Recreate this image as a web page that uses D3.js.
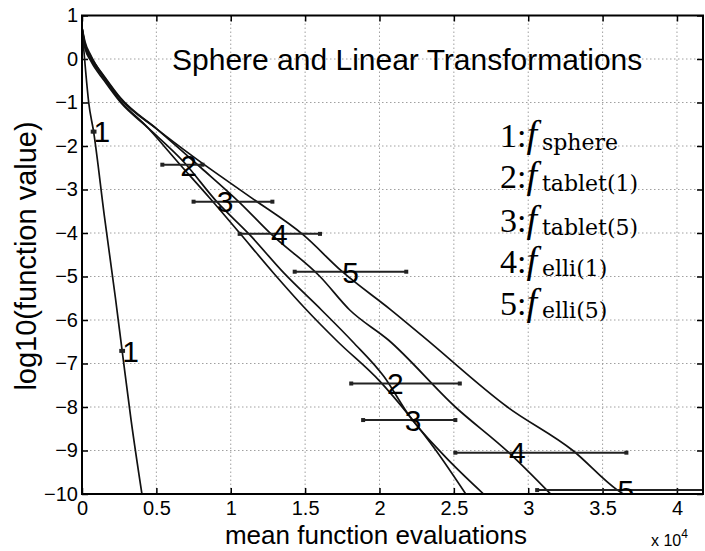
<!DOCTYPE html>
<html>
<head>
<meta charset="utf-8">
<script src="https://cdn.jsdelivr.net/npm/d3@7"></script>
<style>
  body { margin: 0; background: #fff; }
  svg { display: block; }
</style>
</head>
<body>
<div id="chart"></div>
<script>
// values: x in units of 1e4 evaluations, y = log10(f)
const xTicks = [0, 0.5, 1, 1.5, 2, 2.5, 3, 3.5, 4];
const xTickLabels = ['0', '0.5', '1', '1.5', '2', '2.5', '3', '3.5', '4'];
const yTicks = [1, 0, -1, -2, -3, -4, -5, -6, -7, -8, -9, -10];
const yTickLabels = ['1', '0', '\u22121', '\u22122', '\u22123', '\u22124', '\u22125', '\u22126', '\u22127', '\u22128', '\u22129', '\u221210'];

const seriesIds = ['1', '2', '3', '4', '5'];
const legendSubs = ['sphere', 'tablet(1)', 'tablet(5)', 'elli(1)', 'elli(5)'];

const evals1 = [0, 0.01, 0.025, 0.045, 0.078, 0.15, 0.225, 0.27, 0.33, 0.403];
const logf1 = [0.72, 0.3, -0.3, -1.0, -1.67, -3.6, -5.5, -6.71, -8.3, -10];

const evals2 = [0, 0.02, 0.06, 0.15, 0.26, 0.42, 0.66, 0.86, 1.06, 1.29, 1.51, 1.72, 2.0, 2.2, 2.38, 2.58];
const logf2 = [0.72, 0.3, 0.0, -0.45, -0.97, -1.5, -2.43, -3.2, -4.0, -4.93, -5.77, -6.5, -7.4, -8.2, -9.0, -10];

const evals3 = [0, 0.02, 0.06, 0.15, 0.26, 0.45, 0.68, 0.906, 1.13, 1.36, 1.61, 1.82, 2.03, 2.2, 2.43, 2.7];
const logf3 = [0.72, 0.25, -0.05, -0.5, -1.0, -1.6, -2.35, -3.28, -4.05, -4.93, -5.77, -6.5, -7.3, -8.2, -9.1, -10];

const evals4 = [0, 0.02, 0.06, 0.15, 0.26, 0.5, 0.8, 1.06, 1.27, 1.6, 1.8, 2.06, 2.51, 2.87, 3.15];
const logf4 = [0.72, 0.35, 0.05, -0.4, -0.9, -1.6, -2.5, -3.3, -4.02, -5.0, -5.77, -6.46, -8.0, -9.05, -10];

const evals5 = [0, 0.02, 0.06, 0.15, 0.26, 0.5, 0.75, 1.13, 1.49, 1.75, 2.07, 2.3, 2.86, 3.3, 3.6, 3.64];
const logf5 = [0.72, 0.4, 0.08, -0.42, -0.92, -1.6, -2.25, -3.17, -4.05, -4.89, -5.75, -6.4, -8.0, -9.0, -9.91, -10];

// two labelled points per curve: mean, spread (lo..hi), level
const markMean = [[0.078, 0.27], [0.66, 2.05], [0.906, 2.17], [1.27, 2.87], [1.75, 3.6]];
const markLo = [[0.072, 0.264], [0.54, 1.81], [0.75, 1.89], [1.06, 2.51], [1.43, 3.06]];
const markHi = [[0.084, 0.276], [0.81, 2.54], [1.28, 2.51], [1.6, 3.66], [2.18, 4.3]];
const markLevel = [[-1.67, -6.71], [-2.43, -7.46], [-3.28, -8.3], [-4.02, -9.05], [-4.89, -9.91]];

const allEvals = [evals1, evals2, evals3, evals4, evals5];
const allLogf = [logf1, logf2, logf3, logf4, logf5];

const W = 705, H = 551;
const margin = {top: 15.5, right: 2, bottom: 57, left: 82};
const w = W - margin.left - margin.right,
    h = H - margin.top - margin.bottom;

const sans = 'Liberation Sans, Arial, Helvetica, sans-serif';

let xScale = d3.scaleLinear().domain([0, 4.175]).range([0, w]);
let yScale = d3.scaleLinear().domain([-10, 1]).range([h, 0]);

let svg = d3.select('#chart').append('svg')
    .attr('width', W)
    .attr('height', H);

let g = svg.append('g')
    .attr('transform', 'translate(' + margin.left + ',' + margin.top + ')');

svg.append('defs').append('clipPath').attr('id', 'plotclip')
    .append('rect').attr('width', w).attr('height', h);

// dotted grid
g.append('g').selectAll('line.vg')
    .data(xTicks.slice(1))
    .enter().append('line')
    .attr('x1', d => xScale(d)).attr('x2', d => xScale(d))
    .attr('y1', 0).attr('y2', h)
    .attr('stroke', '#a0a0a0').attr('stroke-width', 1).attr('stroke-dasharray', '1.5,2.5');

g.append('g').selectAll('line.hg')
    .data(yTicks.slice(1, -1))
    .enter().append('line')
    .attr('x1', 0).attr('x2', w)
    .attr('y1', d => yScale(d)).attr('y2', d => yScale(d))
    .attr('stroke', '#a0a0a0').attr('stroke-width', 1).attr('stroke-dasharray', '1.5,2.5');

// axes, ticks pointing inward
g.append('g')
    .attr('transform', 'translate(0,' + h + ')')
    .call(d3.axisBottom(xScale).tickValues(xTicks)
        .tickFormat((d, i) => xTickLabels[i])
        .tickSizeInner(-6).tickSizeOuter(0).tickPadding(7));

g.append('g')
    .call(d3.axisLeft(yScale).tickValues(yTicks)
        .tickFormat((d, i) => yTickLabels[i])
        .tickSizeInner(-6).tickSizeOuter(0).tickPadding(4));

g.append('g')
    .call(d3.axisTop(xScale).tickValues(xTicks).tickFormat('').tickSizeInner(-6).tickSizeOuter(0));
g.append('g')
    .attr('transform', 'translate(' + w + ',0)')
    .call(d3.axisRight(yScale).tickValues(yTicks).tickFormat('').tickSizeInner(-6).tickSizeOuter(0));

g.selectAll('.domain').remove();
g.selectAll('.tick line').attr('stroke', '#000').attr('stroke-width', 1.5);
g.selectAll('.tick text')
    .attr('font-family', sans)
    .attr('font-size', 20)
    .attr('fill', '#000');

// curves
let line = d3.line()
    .x(d => xScale(d[0]))
    .y(d => yScale(d[1]))
    .curve(d3.curveMonotoneX);

let plot = g.append('g').attr('clip-path', 'url(#plotclip)');

plot.selectAll('path.curve')
    .data(allEvals.map((ev, k) => ev.map((x, i) => [x, allLogf[k][i]])))
    .enter().append('path')
    .attr('class', 'curve')
    .attr('d', line)
    .attr('fill', 'none')
    .attr('stroke', '#111')
    .attr('stroke-width', 1.7);

// spread bars with numbered labels
seriesIds.forEach((id, k) => {
    markMean[k].forEach((m, j) => {
        let yy = yScale(markLevel[k][j]);
        let x0 = xScale(markLo[k][j]), x1 = xScale(markHi[k][j]);
        plot.append('line')
            .attr('x1', x0).attr('x2', x1)
            .attr('y1', yy).attr('y2', yy)
            .attr('stroke', '#222').attr('stroke-width', 2);
        [x0, x1].forEach(xx => {
            plot.append('rect')
                .attr('x', xx - 2).attr('y', yy - 2)
                .attr('width', 4).attr('height', 4)
                .attr('fill', '#222');
        });
        plot.append('text')
            .attr('x', xScale(m))
            .attr('y', yy)
            .attr('dy', '0.36em')
            .attr('font-family', sans)
            .attr('font-size', 30)
            .attr('fill', '#000')
            .text(id);
    });
});

// frame
g.append('rect')
    .attr('width', w).attr('height', h)
    .attr('fill', 'none').attr('stroke', '#000').attr('stroke-width', 2);

// title inside the axes
g.append('text')
    .attr('x', 172 - margin.left)
    .attr('y', 70 - margin.top)
    .attr('font-family', sans)
    .attr('font-size', 30)
    .attr('fill', '#000')
    .text('Sphere and Linear Transformations');

// legend text
const legendY = [146.7, 188.3, 231.7, 273.3, 315];
let legend = svg.append('g');
seriesIds.forEach((id, k) => {
    let t = legend.append('text')
        .attr('x', 500)
        .attr('y', legendY[k])
        .attr('font-family', 'Liberation Serif, Times New Roman, serif')
        .attr('font-size', 34)
        .attr('fill', '#000');
    t.append('tspan').text(id + ':');
    t.append('tspan').attr('font-style', 'italic').attr('font-size', 38).text('f');
    legend.append('text')
        .attr('x', 542)
        .attr('y', legendY[k] + 3)
        .attr('font-family', 'DejaVu Serif, serif')
        .attr('font-size', 22)
        .attr('fill', '#000')
        .text(legendSubs[k]);
});

// axis titles
svg.append('text')
    .attr('x', 376)
    .attr('y', 544)
    .attr('text-anchor', 'middle')
    .attr('font-family', sans)
    .attr('font-size', 26)
    .attr('fill', '#000')
    .text('mean function evaluations');

svg.append('text')
    .attr('transform', 'translate(36,256) rotate(-90)')
    .attr('text-anchor', 'middle')
    .attr('font-family', sans)
    .attr('font-size', 29)
    .attr('fill', '#000')
    .text('log10(function value)');

let exp = svg.append('text')
    .attr('x', 651)
    .attr('y', 546)
    .attr('font-family', sans)
    .attr('font-size', 16)
    .attr('fill', '#000');
exp.append('tspan').text('x 10');
exp.append('tspan').attr('font-size', 12).attr('dy', -8).text('4');
</script>
</body>
</html>
